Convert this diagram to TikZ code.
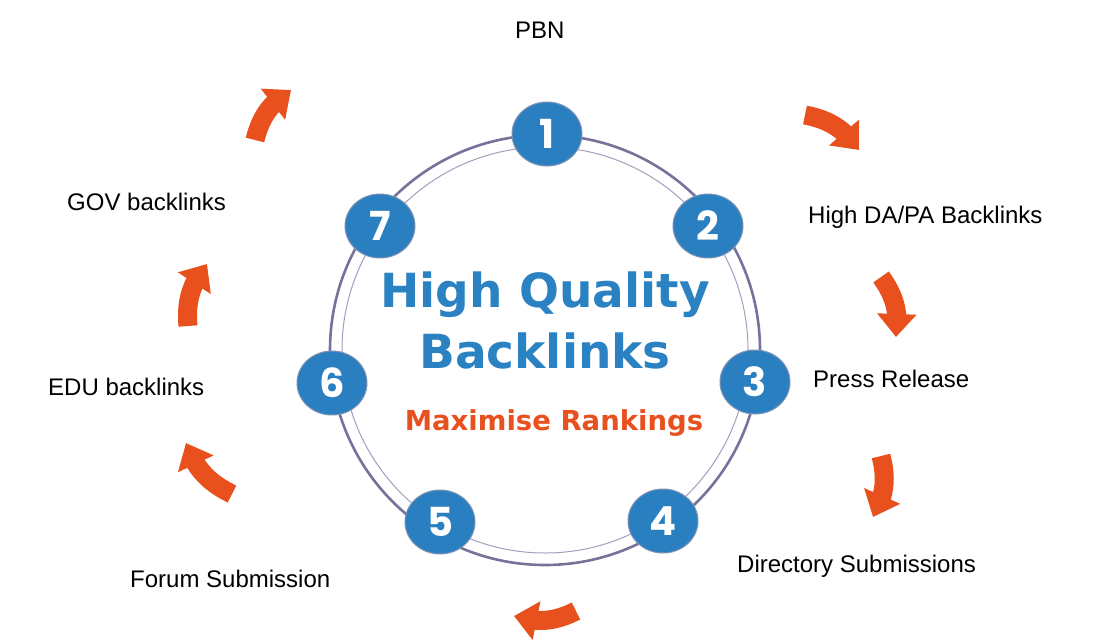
\documentclass[tikz,border=0pt]{standalone}
\usepackage{fontspec}
\setmainfont{Liberation Sans}
\newfontfamily\titlefont{DejaVu Sans}
\newfontfamily\numfont{Poppins}
\usetikzlibrary{arrows.meta,shapes.geometric,bending}
\definecolor{bluec}{HTML}{2A7FC0}
\definecolor{titleblue}{HTML}{2A82C2}
\definecolor{orangec}{HTML}{E8501E}
\definecolor{ringc}{HTML}{77729C}
\definecolor{ringin}{HTML}{A29FBE}
\definecolor{nodeborder}{HTML}{7F93B3}
\tikzset{
  numnode/.style={ellipse, fill=bluec, draw=nodeborder, line width=1pt,
    minimum width=70pt, minimum height=64pt, inner sep=0pt, text=white,
    font=\numfont\bfseries\fontsize{40}{40}\selectfont},
  lbl/.style={anchor=base west, inner sep=0pt, text=black,
    font=\fontsize{24}{26}\selectfont},
  curvearrow/.style={draw=orangec, line width=19pt,
    -{Triangle[width=38pt,length=23pt,flex]}, bend left=22}
}
\begin{document}
\begin{tikzpicture}[x=1pt,y=1pt]
\useasboundingbox (0,0) rectangle (1114,-641);
\fill[white] (0,0) rectangle (1114,-641);
% ring
\coordinate (ctr) at (545,-350);
\draw[ringc, line width=2.6pt] (ctr) circle[radius=215];
\draw[ringin, line width=1pt] (ctr) circle[radius=203];
% numbered nodes
\node[numnode] (n1) at (547,-134) {1};
\node[numnode] (n2) at (708,-226) {2};
\node[numnode] (n3) at (755,-382) {3};
\node[numnode] (n4) at (663,-521) {4};
\node[numnode] (n5) at (440,-522) {5};
\node[numnode] (n6) at (332,-383) {6};
\node[numnode] (n7) at (380,-226) {7};
% centre texts
\node[anchor=base, inner sep=0pt, text=titleblue, font=\titlefont\bfseries\fontsize{47}{50}\selectfont] (t1) at (545,-307) {High Quality};
\node[anchor=base, inner sep=0pt, text=titleblue, font=\titlefont\bfseries\fontsize{47}{50}\selectfont] (t2) at (545,-368) {Backlinks};
\node[anchor=base, inner sep=0pt, text=orangec, font=\titlefont\bfseries\fontsize{27.5}{30}\selectfont] (t3) at (554,-430) {Maximise Rankings};
% labels
\node[lbl] (l1) at (515,-38) {PBN};
\node[lbl] (l2) at (808,-223) {High DA/PA Backlinks};
\node[lbl] (l3) at (813,-387) {Press Release};
\node[lbl] (l4) at (737,-572) {Directory Submissions};
\node[lbl] (l5) at (130,-587) {Forum Submission};
\node[lbl] (l6) at (48,-395) {EDU backlinks};
\node[lbl] (l7) at (67,-210) {GOV backlinks};
% arrows
\coordinate (a1s) at (255,-140); \coordinate (a1e) at (291,-90);
\coordinate (a2s) at (805,-115); \coordinate (a2e) at (859,-150);
\coordinate (a3s) at (881,-277); \coordinate (a3e) at (896,-337);
\coordinate (a4s) at (881,-456); \coordinate (a4e) at (873,-517);
\coordinate (a5s) at (576,-611); \coordinate (a5e) at (514,-616);
\coordinate (a6s) at (232,-494); \coordinate (a6e) at (186,-443);
\coordinate (a7s) at (188,-326); \coordinate (a7e) at (207,-264);
\draw[curvearrow] (a1s) to (a1e);
\draw[curvearrow] (a2s) to (a2e);
\draw[curvearrow] (a3s) to (a3e);
\draw[curvearrow] (a4s) to (a4e);
\draw[curvearrow] (a5s) to (a5e);
\draw[curvearrow] (a6s) to (a6e);
\draw[curvearrow] (a7s) to (a7e);
\end{tikzpicture}
\end{document}
